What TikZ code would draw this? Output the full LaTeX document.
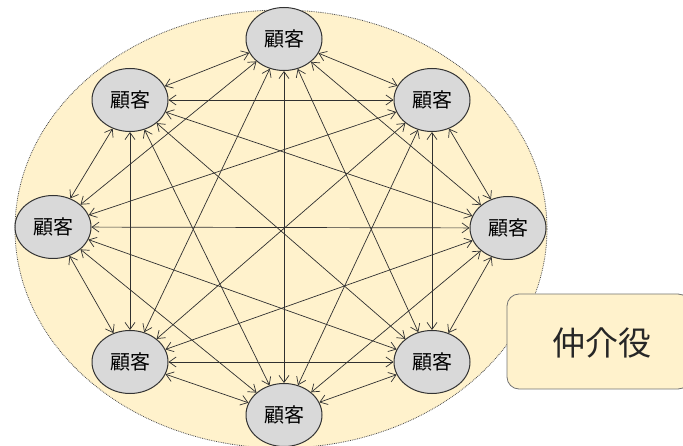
\documentclass[tikz,border=0pt]{standalone}
\usepackage{fontspec}
\usepackage{xcolor}
\usetikzlibrary{shapes.geometric,arrows.meta}
\newfontfamily\jpfont{Noto Sans CJK JP}
\definecolor{cream}{HTML}{FFF2CC}
\definecolor{nodegray}{HTML}{D9D9D9}
\definecolor{edgegray}{HTML}{303030}

\tikzset{
	kokyaku/.style={ellipse, draw=black!80, line width=1pt, fill=nodegray,
		minimum width=76pt, minimum height=63pt, inner sep=0pt,
		font=\jpfont\fontsize{20}{20}\selectfont, text=black},
	link/.style={{Straight Barb[length=7pt,width=10pt]}-{Straight Barb[length=7pt,width=10pt]},
		draw=edgegray, line width=0.7pt},
}

\begin{document}
\begin{tikzpicture}[x=1pt,y=-1pt]
	\useasboundingbox (0,0) rectangle (683,446);
	% market area
	\draw [fill=cream, draw=black!70, densely dotted, line width=0.8pt] (281,229) ellipse [x radius=266, y radius=219];
	% customers
	\node [kokyaku] (cN)  at (284,39)  {顧客};
	\node [kokyaku] (cNE) at (432,100) {顧客};
	\node [kokyaku] (cE)  at (508,228) {顧客};
	\node [kokyaku] (cSE) at (432,362) {顧客};
	\node [kokyaku] (cS)  at (284,415) {顧客};
	\node [kokyaku] (cSW) at (130,362) {顧客};
	\node [kokyaku] (cW)  at (53,227)  {顧客};
	\node [kokyaku] (cNW) at (130,100) {顧客};
	% every pair of customers
	\draw [link] (cN) -- (cNE) ;
	\draw [link] (cN) -- (cE) ;
	\draw [link] (cN) -- (cSE) ;
	\draw [link] (cN) -- (cS) ;
	\draw [link] (cN) -- (cSW) ;
	\draw [link] (cN) -- (cW) ;
	\draw [link] (cN) -- (cNW) ;
	\draw [link] (cNE) -- (cE) ;
	\draw [link] (cNE) -- (cSE) ;
	\draw [link] (cNE) -- (cS) ;
	\draw [link] (cNE) -- (cSW) ;
	\draw [link] (cNE) -- (cW) ;
	\draw [link] (cNE) -- (cNW) ;
	\draw [link] (cE) -- (cSE) ;
	\draw [link] (cE) -- (cS) ;
	\draw [link] (cE) -- (cSW) ;
	\draw [link] (cE) -- (cW) ;
	\draw [link] (cE) -- (cNW) ;
	\draw [link] (cSE) -- (cS) ;
	\draw [link] (cSE) -- (cSW) ;
	\draw [link] (cSE) -- (cW) ;
	\draw [link] (cSE) -- (cNW) ;
	\draw [link] (cS) -- (cSW) ;
	\draw [link] (cS) -- (cW) ;
	\draw [link] (cS) -- (cNW) ;
	\draw [link] (cSW) -- (cW) ;
	\draw [link] (cSW) -- (cNW) ;
	\draw [link] (cW) -- (cNW) ;
	% broker label
	\draw [fill=cream, draw=black!55, line width=0.8pt, rounded corners=12pt] (507,294) rectangle (690,389) ;
	\node [font=\jpfont\fontsize{33}{33}\selectfont, text=black!85] (broker) at (602,343) {仲介役};
\end{tikzpicture}
\end{document}
